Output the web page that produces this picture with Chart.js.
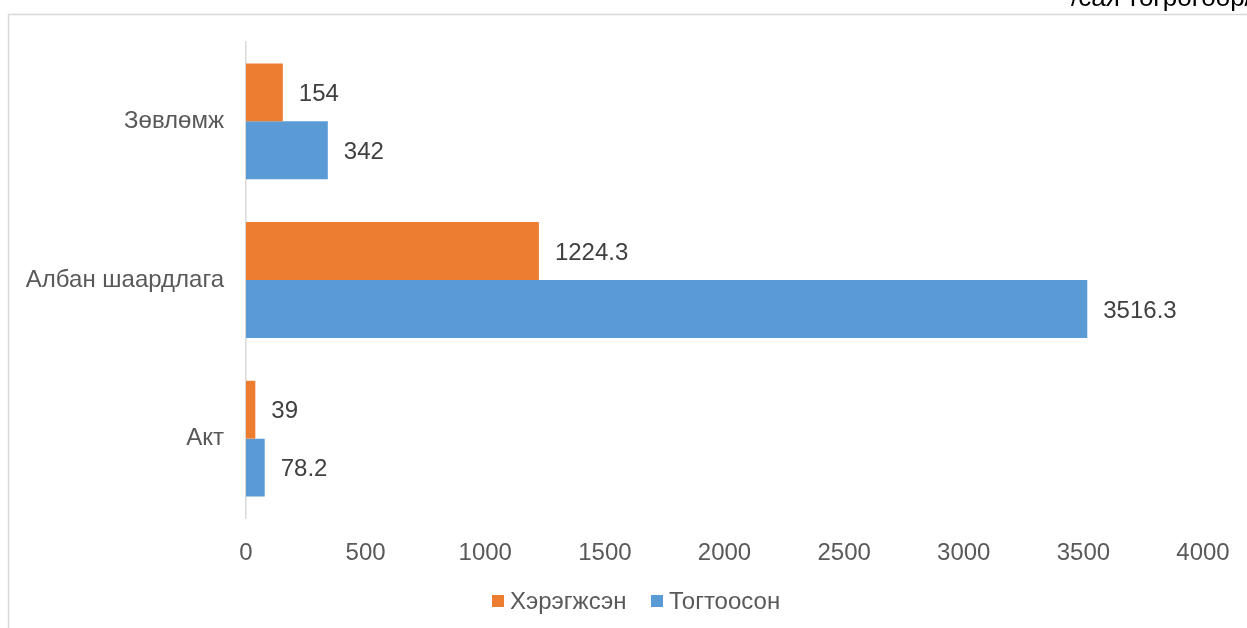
<!DOCTYPE html>
<html>
<head>
<meta charset="utf-8">
<script src="https://cdn.jsdelivr.net/npm/chart.js@4/dist/chart.umd.min.js"></script>
<style>
  html, body { margin: 0; padding: 0; background: #fff; }
  #wrap { width: 1247px; height: 628px; position: relative; }
</style>
</head>
<body>
<div id="wrap"><canvas id="budgetChart" width="1247" height="628"></canvas></div>
<script>
// categories, top to bottom
var categories = ['Зөвлөмж', 'Албан шаардлага', 'Акт'];
var seriesNames = ['Хэрэгжсэн', 'Тогтоосон'];
var seriesColors = ['#ED7D31', '#5B9BD5'];
var implemented = [154, 1224.3, 39];
var assigned = [342, 3516.3, 78.2];
var xTicks = [0, 500, 1000, 1500, 2000, 2500, 3000, 3500, 4000];
var unitNote = '/сая төгрөгөөр/';

var FONT = "'Liberation Sans', Arial, sans-serif";

// frame + unit note in the corner
var framePlugin = {
    id: 'frame',
    beforeDraw: function (chart) {
        var ctx = chart.ctx;
        ctx.save();
        ctx.fillStyle = '#fff';
        ctx.fillRect(0, 0, chart.width, chart.height);
        ctx.strokeStyle = '#d9d9d9';
        ctx.lineWidth = 1.5;
        ctx.beginPath();
        ctx.moveTo(8.5, chart.height + 2);
        ctx.lineTo(8.5, 14.5);
        ctx.lineTo(chart.width + 2, 14.5);
        ctx.stroke();
        ctx.fillStyle = '#000';
        ctx.font = '26px ' + FONT;
        ctx.textAlign = 'left';
        ctx.textBaseline = 'alphabetic';
        ctx.fillText(unitNote, 1071, 6);
        ctx.restore();
    }
};

// value labels at the end of each bar
var valueLabels = {
    id: 'valueLabels',
    afterDatasetsDraw: function (chart) {
        var ctx = chart.ctx;
        ctx.save();
        ctx.font = '24px ' + FONT;
        ctx.fillStyle = '#404040';
        ctx.textAlign = 'left';
        ctx.textBaseline = 'middle';
        chart.data.datasets.forEach(function (ds, i) {
            var meta = chart.getDatasetMeta(i);
            meta.data.forEach(function (bar, j) {
                ctx.fillText(String(ds.data[j]), bar.x + 16, bar.y + 2);
            });
        });
        ctx.restore();
    }
};

// legend below the axis, centred on the frame like the original
var bottomLegend = {
    id: 'bottomLegend',
    afterDraw: function (chart) {
        var ctx = chart.ctx;
        var y = 601;
        var xs = [492, 651];
        ctx.save();
        ctx.font = '24px ' + FONT;
        ctx.textAlign = 'left';
        ctx.textBaseline = 'middle';
        chart.data.datasets.forEach(function (ds, i) {
            ctx.fillStyle = ds.backgroundColor;
            ctx.fillRect(xs[i], y - 6, 12, 12);
            ctx.fillStyle = '#595959';
            ctx.fillText(ds.label, xs[i] + 18, y + 1);
        });
        ctx.restore();
    }
};

var ctx = document.getElementById('budgetChart').getContext('2d');
var chart = new Chart(ctx, {
    type: 'bar',
    data: {
        labels: categories,
        datasets: [
            {
                label: seriesNames[0],
                data: implemented,
                backgroundColor: seriesColors[0],
                categoryPercentage: 0.73,
                barPercentage: 1.0
            },
            {
                label: seriesNames[1],
                data: assigned,
                backgroundColor: seriesColors[1],
                categoryPercentage: 0.73,
                barPercentage: 1.0
            }
        ]
    },
    options: {
        indexAxis: 'y',
        responsive: false,
        animation: false,
        layout: {
            padding: { left: 8, right: 44, top: 42, bottom: 54 }
        },
        plugins: {
            legend: { display: false },
            tooltip: { enabled: false }
        },
        scales: {
            x: {
                min: 0,
                max: 4000,
                afterBuildTicks: function (scale) {
                    scale.ticks = xTicks.map(function (v) { return { value: v }; });
                },
                grid: { display: false },
                border: { display: false },
                ticks: {
                    color: '#595959',
                    font: { family: FONT, size: 24 },
                    padding: 13,
                    maxRotation: 0,
                    callback: function (v) { return String(v); }
                },
                afterFit: function (scale) { scale.height = 56; }
            },
            y: {
                grid: { display: false, drawTicks: false },
                border: { display: true, color: '#d9d9d9', width: 1.5 },
                ticks: {
                    color: '#595959',
                    font: { family: FONT, size: 24 },
                    padding: 22
                },
                afterFit: function (scale) { scale.width = 238; }
            }
        }
    },
    plugins: [framePlugin, valueLabels, bottomLegend]
});
</script>
</body>
</html>
